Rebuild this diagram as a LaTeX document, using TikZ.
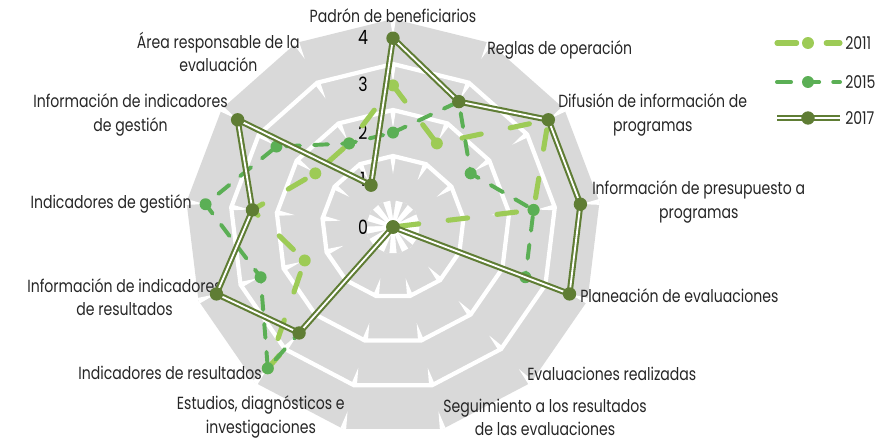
\documentclass[tikz,border=0pt]{standalone}
\usepackage{fontspec}
\setmainfont{Poppins}[FakeStretch=0.8]
\usetikzlibrary{positioning}
\pgfdeclarelayer{background}
\pgfsetlayers{background,main}

\definecolor{band}{HTML}{D9D9D9}
\definecolor{c2011}{HTML}{9DCB56}
\definecolor{c2015}{HTML}{5BAF55}
\definecolor{c2017}{HTML}{5F7D34}
\definecolor{labeltext}{HTML}{262626}

\begin{document}
\begin{tikzpicture}[x=0.025cm, y=0.025cm,
					axislabel/.style={inner sep=0pt, align=center, text=labeltext, font=\fontsize{12.5}{16.5}\selectfont},
					ticklabel/.style={inner sep=0pt, text=black, font=\fontsize{14}{14}\selectfont},
					gridring/.style={draw=white, line width=3pt},
					line2011/.style={draw=c2011, line width=3.6pt, line cap=round, line join=round, dash pattern=on 14pt off 21pt},
					line2015/.style={draw=c2015, line width=2.8pt, line cap=round, line join=round, dash pattern=on 10pt off 10pt},
					line2017/.style={draw=c2017, line width=1.5pt, double=white, double distance=1.3pt, line join=round},
					dot2011/.style={circle, fill=c2011, inner sep=0pt, minimum size=8.5pt},
					dot2015/.style={circle, fill=c2015, inner sep=0pt, minimum size=8.5pt},
					dot2017/.style={circle, fill=c2017, inner sep=0pt, minimum size=9.5pt},
					]
					\useasboundingbox (-393,-213) rectangle (489,227);

					\begin{pgfonlayer}{background}
					%Grid
					\fill[band] (90:208) \foreach \k in {1,...,12} {-- ({90-\k*360/13}:208)} -- cycle;
					\foreach \r in {71,117,163}
						\draw[gridring] (90:\r) \foreach \k in {1,...,12} {-- ({90-\k*360/13}:\r)} -- cycle;
					\fill[white] (90:27) \foreach \k in {1,...,12} {-- ({90-\k*360/13}:27)} -- cycle;
					\foreach \r in {71,117,163,208}
						\foreach \k in {0,...,12}
							\fill[white] ({90-\k*360/13+170/\r}:\r) -- ({90-\k*360/13}:{\r-18}) -- ({90-\k*360/13-170/\r}:\r) -- cycle;
					\foreach \k in {0,...,12}
						\fill[band] ({90-\k*360/13+6}:27) -- ({90-\k*360/13}:9) -- ({90-\k*360/13-6}:27) -- cycle;
					\end{pgfonlayer}

					%Ticks
					\foreach \v in {0,...,4}
						\node[ticklabel] (tick\v) at (-30,{\v*47.5}) {\v};

					%Labels
					\node[axislabel] (lab0) at (0,211) {Padrón de beneficiarios};
					\node[axislabel, anchor=west] (lab1) at (94,177) {Reglas de operación};
					\node[axislabel, anchor=west] (lab2) at (165,112) {Difusión de información de\\programas};
					\node[axislabel, anchor=west] (lab3) at (199,25) {Información de presupuesto a\\programas};
					\node[axislabel, anchor=west] (lab4) at (187,-69) {Planeación de evaluaciones};
					\node[axislabel, anchor=west] (lab5) at (134,-147) {Evaluaciones realizadas};
					\node[axislabel, anchor=west] (lab6) at (50,-190) {Seguimiento a los resultados\\de las evaluaciones};
					\node[axislabel, anchor=east] (lab7) at (-48,-190) {Estudios, diagnósticos e\\investigaciones};
					\node[axislabel, anchor=east] (lab8) at (-131,-146) {Indicadores de resultados};
					\node[axislabel, anchor=east] (lab9) at (-171,-70) {Información de indicadores\\de resultados};
					\node[axislabel, anchor=east] (lab10) at (-201,23) {Indicadores de gestión};
					\node[axislabel, anchor=east] (lab11) at (-165,112) {Información de indicadores\\de gestión};
					\node[axislabel, anchor=east] (lab12) at (-93,175) {Área responsable de la\\evaluación};

					%2011
					\foreach \v [count=\k from 0] in {3,2,4,3,0,0,0,0,4,2,3,2,2}
						\coordinate (a\k) at ({90-\k*360/13}:{\v*47.2});
					\draw[line2011] (a0) \foreach \k in {1,...,12} {-- (a\k)} -- cycle;
					\foreach \k in {0,...,12}
						\node[dot2011] (adot\k) at (a\k) {};

					%2015
					\foreach \v [count=\k from 0] in {2,3,2,3,3,0,0,0,4,3,4,3,2}
						\coordinate (b\k) at ({90-\k*360/13}:{\v*47.2});
					\draw[line2015] (b0) \foreach \k in {1,...,12} {-- (b\k)} -- cycle;
					\foreach \k in {0,...,12}
						\node[dot2015] (bdot\k) at (b\k) {};

					%2017
					\foreach \v [count=\k from 0] in {4,3,4,4,4,0,0,0,3,4,3,4,1}
						\coordinate (c\k) at ({90-\k*360/13}:{\v*47.2});
					\draw[line2017] (c0) \foreach \k in {1,...,12} {-- (c\k)} -- cycle;
					\foreach \k in {0,...,12}
						\node[dot2017] (cdot\k) at (c\k) {};

					%Legend
					\coordinate (key2011a) at (384,184);
					\coordinate (key2011b) at (447,184);
					\draw[line2011] (key2011a) -- (key2011b);
					\node[dot2011] (key2011dot) at (415,184) {};
					\node[axislabel, anchor=west] (key2011) at (452,184) {2011};

					\coordinate (key2015a) at (384,145);
					\coordinate (key2015b) at (447,145);
					\draw[line2015] (key2015a) -- (key2015b);
					\node[dot2015] (key2015dot) at (415,145) {};
					\node[axislabel, anchor=west] (key2015) at (452,145) {2015};

					\coordinate (key2017a) at (384,109);
					\coordinate (key2017b) at (447,109);
					\draw[line2017] (key2017a) -- (key2017b);
					\node[dot2017] (key2017dot) at (415,109) {};
					\node[axislabel, anchor=west] (key2017) at (452,109) {2017};
				\end{tikzpicture}
\end{document}
